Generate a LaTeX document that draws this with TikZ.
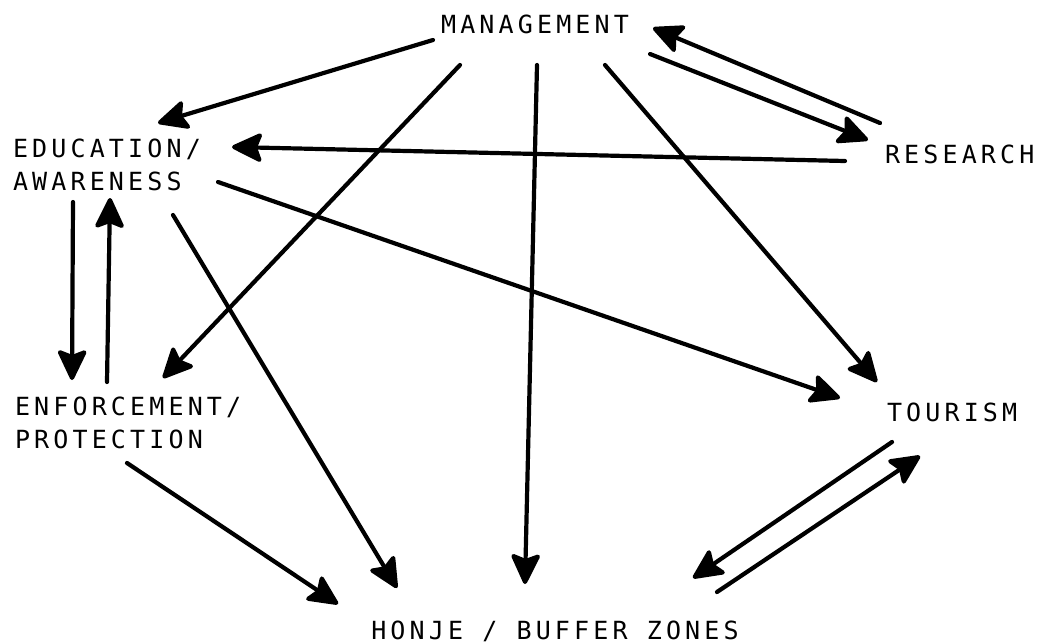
\documentclass[tikz,border=0pt]{standalone}
\usepackage{fontspec}
\usepackage{tikz}
\usetikzlibrary{arrows.meta}
\usetikzlibrary{positioning}
\newfontfamily\plotfont{DejaVu Sans Mono}[LetterSpace=16.6]
\tikzset{>={Stealth[length=34pt, width=32pt, inset=6pt, round]}, font=\plotfont\fontsize{25}{33}\selectfont}
\tikzstyle{topic} = [inner sep=0pt, outer sep=0pt, align=left]
\tikzstyle{link} = [->, line width=4.2pt, line cap=round, line join=round]

\begin{document}
\begin{tikzpicture}[x=1pt, y=-1pt]
		\useasboundingbox (0,0) rectangle (1046,643);

		\node [topic, anchor=base] (mgmt) at (535,33) {MANAGEMENT};
		\node [topic, anchor=west] (edu) at (13,165) {EDUCATION/\\AWARENESS};
		\node [topic, anchor=base west] (res) at (885,163) {RESEARCH};
		\node [topic, anchor=west] (enf) at (15,423) {ENFORCEMENT/\\PROTECTION};
		\node [topic, anchor=base west] (tour) at (887,421) {TOURISM};
		\node [topic, anchor=base] (honje) at (555,639) {HONJE / BUFFER ZONES};

		% from management
		\draw [link] ([shift={(-102,7)}]mgmt.base) -- ([shift={(145,-42)}]edu.west);
		\draw [link] ([shift={(-75,32)}]mgmt.base) -- ([shift={(148,-45)}]enf.west);
		\draw [link] ([shift={(2,32)}]mgmt.base) -- ([shift={(-30,-55)}]honje.base);
		\draw [link] ([shift={(70,32)}]mgmt.base) -- ([shift={(-10,-39)}]tour.base west);
		\draw [link] ([shift={(115,21)}]mgmt.base) -- ([shift={(-17,-23)}]res.base west);

		% from research
		\draw [link] ([shift={(-5,-40)}]res.base west) -- ([shift={(118,-5)}]mgmt.base);
		\draw [link] ([shift={(-40,-2)}]res.base west) -- ([shift={(219,-18)}]edu.west);

		% from education
		\draw [link] ([shift={(205,17)}]edu.west) -- ([shift={(-47,-23)}]tour.base west);
		\draw [link] ([shift={(60,37)}]edu.west) -- ([shift={(57,-43)}]enf.west);
		\draw [link] ([shift={(160,50)}]edu.west) -- ([shift={(-158,-51)}]honje.base);

		% from enforcement
		\draw [link] ([shift={(92,-41)}]enf.west) -- ([shift={(97,33)}]edu.west);
		\draw [link] ([shift={(112,40)}]enf.west) -- ([shift={(-217,-35)}]honje.base);

		% tourism and buffer zones
		\draw [link] ([shift={(5,21)}]tour.base west) -- ([shift={(138,-61)}]honje.base);
		\draw [link] ([shift={(162,-47)}]honje.base) -- ([shift={(33,35)}]tour.base west);
	\end{tikzpicture}
\end{document}
